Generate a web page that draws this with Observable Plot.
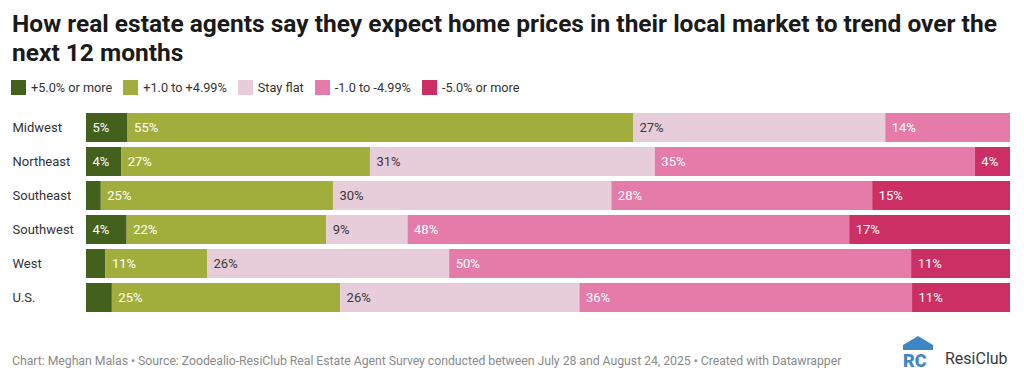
<!DOCTYPE html>
<html>
<head>
<meta charset="utf-8">
<script src="https://cdn.jsdelivr.net/npm/d3@7"></script>
<script src="https://cdn.jsdelivr.net/npm/@observablehq/plot@0.6"></script>
<style>
  html, body { margin: 0; padding: 0; background: #fff; }
  body { width: 1024px; height: 381px; position: relative; overflow: hidden; font-family: Roboto, "Noto Sans", sans-serif; color: #222; }
  #title { position: absolute; left: 12px; top: 9px; font-size: 24.5px; font-weight: 700; line-height: 29px; color: #1a1a1a; width: 1005px; }
  #legend { position: absolute; left: 11px; top: 80px; display: flex; align-items: center; font-size: 12.7px; color: #333; }
  #legend .item { display: flex; align-items: center; margin-right: 11px; }
  #legend .sw { width: 15px; height: 15px; margin-right: 5px; }
  #chart { position: absolute; left: 0; top: 105px; }
  #footer { position: absolute; left: 12px; top: 354px; font-size: 12.3px; color: #8a8a8a; letter-spacing: -0.05px; white-space: nowrap; }
  #logo { position: absolute; left: 902px; top: 336px; display: flex; align-items: center; }
  #logo svg { overflow: visible; }
  #logo .name { font-size: 16px; color: #3a3a3a; margin-left: 10px; margin-top: 12px; }
</style>
</head>
<body>
<div id="title">How real estate agents say they expect home prices in their local market to trend over the next 12 months</div>
<div id="legend"></div>
<div id="chart"></div>
<div id="footer">Chart: Meghan Malas • Source: Zoodealio-ResiClub Real Estate Agent Survey conducted between July 28 and August 24, 2025 • Created with Datawrapper</div>
<div id="logo">
  <svg width="33" height="32" viewBox="0 0 33 32">
    <polygon points="16,0 31,9 31,14 1,14 1,9" fill="#3f87c4"/>
    <text x="1" y="31" font-family="Roboto, sans-serif" font-weight="900" font-size="18" fill="#3f87c4">RC</text>
  </svg>
  <span class="name">ResiClub</span>
</div>
<script>
const regions = ["Midwest", "Northeast", "Southeast", "Southwest", "West", "U.S."];
const categories = ["+5.0% or more", "+1.0 to +4.99%", "Stay flat", "-1.0 to -4.99%", "-5.0% or more"];
const colors = ["#43611d", "#a2ae3b", "#e7cdd9", "#e57ba9", "#cc2f63"];
const up5   = [4.5, 3.8, 1.6, 4.4, 2.1, 2.8];
const up1   = [54.7, 26.9, 25.1, 21.6, 11.0, 24.7];
const flat  = [27.3, 30.8, 30.1, 8.8, 26.2, 25.9];
const down1 = [13.5, 34.6, 28.2, 47.8, 50.0, 36.0];
const down5 = [0, 3.8, 14.9, 17.4, 10.7, 10.6];

const series = [up5, up1, flat, down1, down5];
const data = [];
categories.forEach((c, ci) => {
  regions.forEach((r, ri) => {
    data.push({region: r, category: c, value: series[ci][ri]});
  });
});

// legend
const legend = document.getElementById("legend");
categories.forEach((c, i) => {
  const it = document.createElement("div");
  it.className = "item";
  it.innerHTML = `<span class="sw" style="background:${colors[i]}"></span><span>${c}</span>`;
  legend.appendChild(it);
});

const textColor = c => c === "Stay flat" ? "#3a3a3a" : "#ffffff";

const chart = Plot.plot({
  width: 1024,
  height: 215,
  marginLeft: 86,
  marginRight: 14,
  marginTop: 4,
  marginBottom: 3,
  x: {domain: [0, 1], axis: null},
  y: {domain: regions, axis: null, paddingInner: 0.14, paddingOuter: 0.07},
  color: {domain: categories, range: colors},
  style: {fontFamily: "Roboto, 'Noto Sans', sans-serif", background: "#fff"},
  marks: [
    Plot.barX(data, Plot.stackX({
      x: "value", y: "region", fill: "category", z: "category", offset: "normalize"
    })),
    Plot.text(data, Plot.stackX1({
      x: "value", y: "region", z: "category", offset: "normalize",
      text: d => d.value >= 3 ? Math.round(d.value) + "%" : null,
      fill: d => textColor(d.category),
      textAnchor: "start", dx: 6, fontSize: 13
    })),
    Plot.text(regions, {
      y: d => d, text: d => d, frameAnchor: "left", textAnchor: "start",
      dx: -74, fontSize: 13, fill: "#333"
    })
  ]
});
document.getElementById("chart").appendChild(chart);
</script>
</body>
</html>
